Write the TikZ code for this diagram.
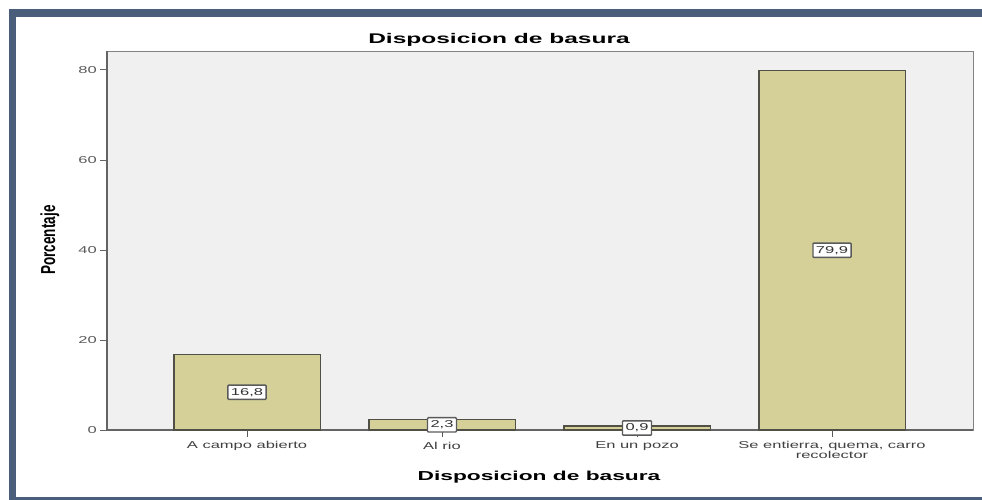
\documentclass[tikz,border=0pt]{standalone}
\usepackage{fontspec}
\usepackage{graphicx}
\setmainfont{Liberation Sans}
\newfontfamily\catfont{Liberation Sans}[FakeStretch=1.65]
\newfontfamily\titlefont{Liberation Sans}[FakeStretch=1.75]
\newfontfamily\plainfont{Liberation Sans}
\definecolor{framec}{RGB}{74,94,124}
\definecolor{plotbg}{RGB}{240,240,240}
\definecolor{barc}{RGB}{212,208,152}
\definecolor{bard}{RGB}{80,80,70}
\definecolor{tickc}{RGB}{90,90,90}
\definecolor{axisc}{RGB}{100,100,100}
\tikzset{
  barbox/.style={draw=bard, line width=1.1pt, fill=barc},
  valbox/.style={draw=tickc, line width=1.4pt, fill=white, inner xsep=3pt, inner ysep=3pt, rounded corners=0.8pt, font=\catfont\fontsize{10}{10}\selectfont, text=black!80},
  cattext/.style={font=\catfont\fontsize{10}{9}\selectfont, text=black!75, align=center, inner sep=0pt},
  ticktext/.style={font=\catfont\fontsize{10}{10}\selectfont, text=tickc, anchor=east, inner sep=0pt},
  titletext/.style={font=\titlefont\bfseries\fontsize{14}{14}\selectfont, inner sep=0pt},
  axistitle/.style={font=\titlefont\bfseries\fontsize{13}{13}\selectfont, inner sep=0pt},
}
\begin{document}
\begin{tikzpicture}[x=1pt,y=-1pt]
\useasboundingbox (0,0) rectangle (982,500);
\fill[white] (0,0) rectangle (982,500);
% outer frame
\fill[framec] (9,9) rectangle (982,17);
\fill[framec] (9,9) rectangle (16,500);
\fill[framec] (9,497) rectangle (982,500);
% plot area
\draw[fill=plotbg, draw=axisc!80, line width=0.8pt] (107,51) rectangle (973,430);
\draw[axisc, line width=1.2pt] (107,51) -- (107,430) -- (973,430);
% y ticks
\foreach \v/\n in {0/t0,20/t20,40/t40,60/t60,80/t80}{
  \coordinate (\n a) at (100,{430-4.5*\v});
  \coordinate (\n b) at (107,{430-4.5*\v});
  \draw[axisc, line width=1pt] (\n a) -- (\n b);
  \node[ticktext] (\n l) at (97,{430-4.5*\v}) {\v};
}
% bars
\draw[barbox] (174,430) rectangle (320.5,{430-4.5*16.8});
\draw[barbox] (369,430) rectangle (515.5,{430-4.5*2.3});
\draw[barbox] (564,430) rectangle (710.5,{430-4.5*0.9});
\draw[barbox] (759,430) rectangle (905.5,{430-4.5*79.9});
% x ticks
\foreach \x/\n in {247/c1,442/c2,637/c3,832/c4}{
  \coordinate (\n a) at (\x,430);
  \coordinate (\n b) at (\x,437);
  \draw[tickc, line width=1pt] (\n a) -- (\n b);
}
% value labels
\node[valbox] (v1) at (247,{430-4.5*16.8/2}) {16,8};
\node[valbox] (v2) at (442,{430-4.5*2.3/2}) {2,3};
\node[valbox] (v3) at (637,{430-4.5*0.9/2}) {0,9};
\node[valbox] (v4) at (832,{430-4.5*79.9/2}) {79,9};
% category labels
\node[cattext] (k1) at (247,446) {A campo abierto};
\node[cattext] (k2) at (442,446) {Al rio};
\node[cattext] (k3) at (637,446) {En un pozo};
\node[cattext, anchor=north] (k4) at (832,441) {Se entierra, quema, carro\\recolector};
% titles
\node[titletext] (title) at (499,40) {Disposicion de basura};
\node[axistitle] (xt) at (539,477) {Disposicion de basura};
\node[rotate=90, inner sep=0pt] (yt) at (50,240) {\scalebox{1}[1.5]{\plainfont\bfseries\fontsize{13.5}{13.5}\selectfont Porcentaje}};
\end{tikzpicture}
\end{document}
